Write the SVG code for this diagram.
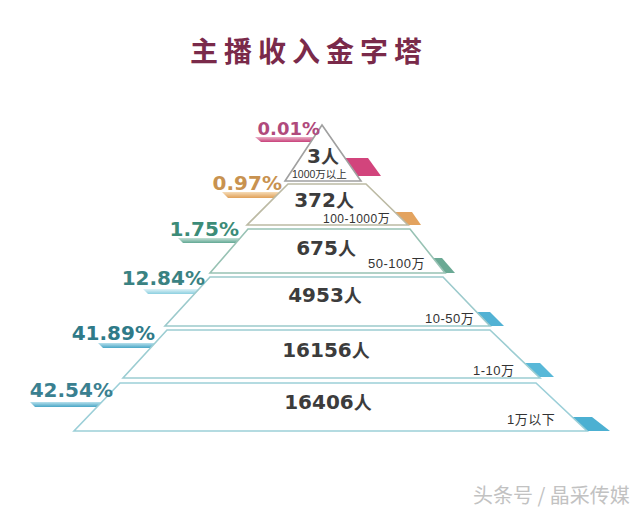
<svg xmlns="http://www.w3.org/2000/svg" width="640" height="511" viewBox="0 0 640 511">
<defs>
<style>
.title{font-family:"Noto Sans CJK SC","Noto Sans",sans-serif;font-weight:bold;font-size:28px;fill:#7a2a4a;letter-spacing:6px}
.pct{font-family:"DejaVu Sans","Noto Sans CJK SC",sans-serif;font-weight:bold;font-size:20px;text-anchor:end}
.num{font-family:"DejaVu Sans","Noto Sans CJK SC",sans-serif;font-weight:bold;font-size:20px;fill:#3c3c3c;text-anchor:middle}
.ren{font-family:"Noto Sans CJK SC",sans-serif;font-size:18px;font-weight:bold}
.rng{font-family:"Liberation Sans","Noto Sans CJK SC",sans-serif;font-size:13px;fill:#333;letter-spacing:0.5px}
.tier{fill:#fff;stroke-width:1.6;stroke-linejoin:miter}
.wm{font-family:"Noto Sans CJK SC",sans-serif;font-size:20px;fill:#c2c2c2}
</style>
<linearGradient id="gPink" x1="0" y1="0" x2="0" y2="1"><stop offset="0" stop-color="#eab0c6"/><stop offset="1" stop-color="#c8407a"/></linearGradient>
<linearGradient id="gOr" x1="0" y1="0" x2="0" y2="1"><stop offset="0" stop-color="#f5dcb8"/><stop offset="1" stop-color="#e0a058"/></linearGradient>
<linearGradient id="gGr" x1="0" y1="0" x2="0" y2="1"><stop offset="0" stop-color="#c4e0d6"/><stop offset="1" stop-color="#62a894"/></linearGradient>
<linearGradient id="gCy" x1="0" y1="0" x2="0" y2="1"><stop offset="0" stop-color="#dff2f6"/><stop offset="1" stop-color="#8ccfe0"/></linearGradient>
<linearGradient id="gBl" x1="0" y1="0" x2="0" y2="1"><stop offset="0" stop-color="#b8e0ec"/><stop offset="1" stop-color="#48a6c6"/></linearGradient>
</defs>
<rect width="640" height="511" fill="#ffffff"/>
<text class="title" x="190" y="62">主播收入金字塔</text>

<g id="connectors">
<polygon points="255,137 316,137 314,142 261,142" fill="url(#gPink)"/>
<polygon points="222,192 286,192 284,198 228,198" fill="url(#gOr)"/>
<polygon points="178,238 243,238 241,243 183,243" fill="url(#gGr)"/>
<polygon points="143,289 201,289 199,294 148,294" fill="url(#gCy)"/>
<polygon points="98,343 157,343 155,348 103,348" fill="url(#gBl)"/>
<polygon points="30,402 104,402 102,407 35,407" fill="url(#gBl)"/>
<polygon points="340,158 368,158 381,176 353,176" fill="#d2447c"/>
<polygon points="390,212 412,212 421,225 399,225" fill="#e3a35f"/>
<polygon points="425,258 442,258 455,273 438,273" fill="#6aa994"/>
<polygon points="475,312 490,312 504,326 489,326" fill="#52b2d4"/>
<polygon points="523,363 540,363 554,377 537,377" fill="#58b8d8"/>
<polygon points="571,417 592,417 610,431 586,431" fill="#4cb0d2"/>
</g>

<g id="tier1">
<polygon class="tier" points="322,125 285,181 361,181" stroke="#a0a0a0"/>
<text class="num" x="323" y="163">3<tspan class="ren">人</tspan></text>
<text class="rng" x="292" y="178" style="font-size:10.5px;letter-spacing:0">1000万以上</text>
</g>
<g id="tier2">
<polygon class="tier" points="288,184 366,184 408,225 247,225" stroke="#bcbaa4"/>
<text class="num" x="324" y="207">372<tspan class="ren">人</tspan></text>
<text class="rng" x="323" y="223" style="font-size:12px">100-1000万</text>
</g>
<g id="tier3">
<polygon class="tier" points="248,229 410,229 445,273 210,273" stroke="#98c2b4"/>
<text class="num" x="326" y="255">675<tspan class="ren">人</tspan></text>
<text class="rng" x="368" y="268">50-100万</text>
</g>
<g id="tier4">
<polygon class="tier" points="210,277 443,277 490,326 165,326" stroke="#9ccacc"/>
<text class="num" x="325" y="302">4953<tspan class="ren">人</tspan></text>
<text class="rng" x="425" y="323">10-50万</text>
</g>
<g id="tier5">
<polygon class="tier" points="167,330 490,330 540,378 123,378" stroke="#9ccdd2"/>
<text class="num" x="326" y="357">16156<tspan class="ren">人</tspan></text>
<text class="rng" x="473" y="375">1-10万</text>
</g>
<g id="tier6">
<polygon class="tier" points="120,383 536,383 587,431 74,431" stroke="#9ccfd8"/>
<text class="num" x="328" y="409">16406<tspan class="ren">人</tspan></text>
<text class="rng" x="507" y="424">1万以下</text>
</g>

<g id="labels">
<text class="pct" x="320" y="135" fill="#b04a7c" style="font-size:18px">0.01%</text>
<text class="pct" x="282" y="190" fill="#c89250">0.97%</text>
<text class="pct" x="239" y="236" fill="#3c8c78">1.75%</text>
<text class="pct" x="205" y="285" fill="#3a8282">12.84%</text>
<text class="pct" x="155" y="340" fill="#2f7a88">41.89%</text>
<text class="pct" x="113" y="397" fill="#3a8090">42.54%</text>
</g>

<text class="wm" x="473" y="503">头条号 / 晶采传媒</text>
</svg>
